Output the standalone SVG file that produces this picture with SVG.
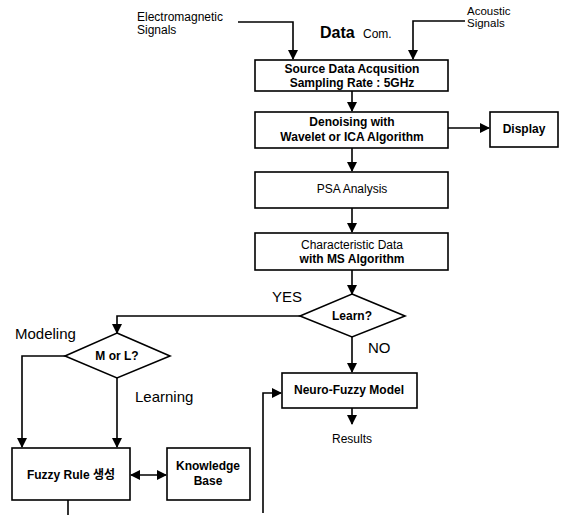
<svg xmlns="http://www.w3.org/2000/svg" width="571" height="515" viewBox="0 0 571 515">
<style>
.box{fill:#fff;stroke:#000;stroke-width:1.6}
.ln{fill:none;stroke:#000;stroke-width:1.6}
.t{font-family:"Liberation Sans",Arial,sans-serif;font-size:12px;fill:#000}
.b{font-weight:bold}
.c{text-anchor:middle}
.lab{font-family:"Liberation Sans",Arial,sans-serif;font-size:15px;fill:#000}
</style>
<defs>
<marker id="ah" markerWidth="10" markerHeight="10" refX="9" refY="5" orient="auto" markerUnits="userSpaceOnUse">
<path d="M0,0 L10,5 L0,10 Z" fill="#000"/>
</marker>
<marker id="ahs" markerWidth="10" markerHeight="10" refX="1" refY="5" orient="auto" markerUnits="userSpaceOnUse">
<path d="M10,0 L0,5 L10,10 Z" fill="#000"/>
</marker>
</defs>
<rect width="571" height="515" fill="#fff"/>
<g id="labels">
<text class="t" x="137" y="21">Electromagnetic</text>
<text class="t" x="137" y="34">Signals</text>
<text class="t" x="467" y="15" style="font-size:11.5px">Acoustic</text>
<text class="t" x="467" y="27" style="font-size:11.5px">Signals</text>
<text class="lab b" x="320" y="38" style="font-size:16px">Data</text>
<text class="t" x="363" y="38">Com.</text>
<text class="lab" x="272" y="302">YES</text>
<text class="lab" x="368" y="353">NO</text>
<text class="lab" x="15" y="339">Modeling</text>
<text class="lab" x="135" y="402">Learning</text>
<text class="t" x="352" y="443" text-anchor="middle">Results</text>
</g>
<g id="connectors">
<path class="ln" d="M238,22 H293 V59" marker-end="url(#ah)"/>
<path class="ln" d="M465,21 H413 V59" marker-end="url(#ah)"/>
<path class="ln" d="M352,91 V111" marker-end="url(#ah)"/>
<path class="ln" d="M448,128 H489" marker-end="url(#ah)"/>
<path class="ln" d="M352,148 V171" marker-end="url(#ah)"/>
<path class="ln" d="M352,208 V232" marker-end="url(#ah)"/>
<path class="ln" d="M352,270 V294" marker-end="url(#ah)"/>
<path class="ln" d="M300,316 H117 V333" marker-end="url(#ah)"/>
<path class="ln" d="M352,337 V372" marker-end="url(#ah)"/>
<path class="ln" d="M352,408 V424" marker-end="url(#ah)"/>
<path class="ln" d="M263,513 V393 H281" marker-end="url(#ah)"/>
<path class="ln" d="M65,356 H22 V447" marker-end="url(#ah)"/>
<path class="ln" d="M117,378 V447" marker-end="url(#ah)"/>
<path class="ln" d="M131,475 H166" marker-start="url(#ahs)" marker-end="url(#ah)"/>
<path class="ln" d="M68,500 V515"/>
</g>
<g id="source">
<rect class="box" x="255" y="60" width="193" height="31"/>
<text class="t b c" x="352" y="73">Source Data Acqusition</text>
<text class="t b c" x="352" y="87">Sampling Rate : 5GHz</text>
</g>
<g id="denoise">
<rect class="box" x="255" y="112" width="193" height="36"/>
<text class="t b c" x="352" y="126">Denoising with</text>
<text class="t b c" x="352" y="141">Wavelet or ICA Algorithm</text>
</g>
<g id="display">
<rect class="box" x="490" y="112" width="68" height="35"/>
<text class="t b c" x="524" y="133">Display</text>
</g>
<g id="psa">
<rect class="box" x="255" y="172" width="193" height="36"/>
<text class="t c" x="352" y="193">PSA Analysis</text>
</g>
<g id="characteristic">
<rect class="box" x="255" y="233" width="193" height="37"/>
<text class="t c" x="352" y="249">Characteristic Data</text>
<text class="t b c" x="352" y="263">with MS Algorithm</text>
</g>
<g id="learn">
<polygon class="box" points="352,294 405,316 352,337 300,316"/>
<text class="t b c" x="352" y="320">Learn?</text>
</g>
<g id="morl">
<polygon class="box" points="117,333 170,356 117,378 65,356"/>
<text class="t b c" x="117" y="360">M or L?</text>
</g>
<g id="neuro">
<rect class="box" x="282" y="373" width="135" height="35"/>
<text class="t b c" x="349" y="394">Neuro-Fuzzy Model</text>
</g>
<g id="fuzzy">
<rect class="box" x="12" y="448" width="118" height="52"/>
<text class="t b c" x="71" y="479" style="font-family:'Liberation Sans','Noto Sans CJK KR',sans-serif">Fuzzy Rule 생성</text>
</g>
<g id="knowledge">
<rect class="box" x="167" y="448" width="83" height="52"/>
<text class="t b c" x="208" y="470">Knowledge</text>
<text class="t b c" x="208" y="485">Base</text>
</g>
</svg>
